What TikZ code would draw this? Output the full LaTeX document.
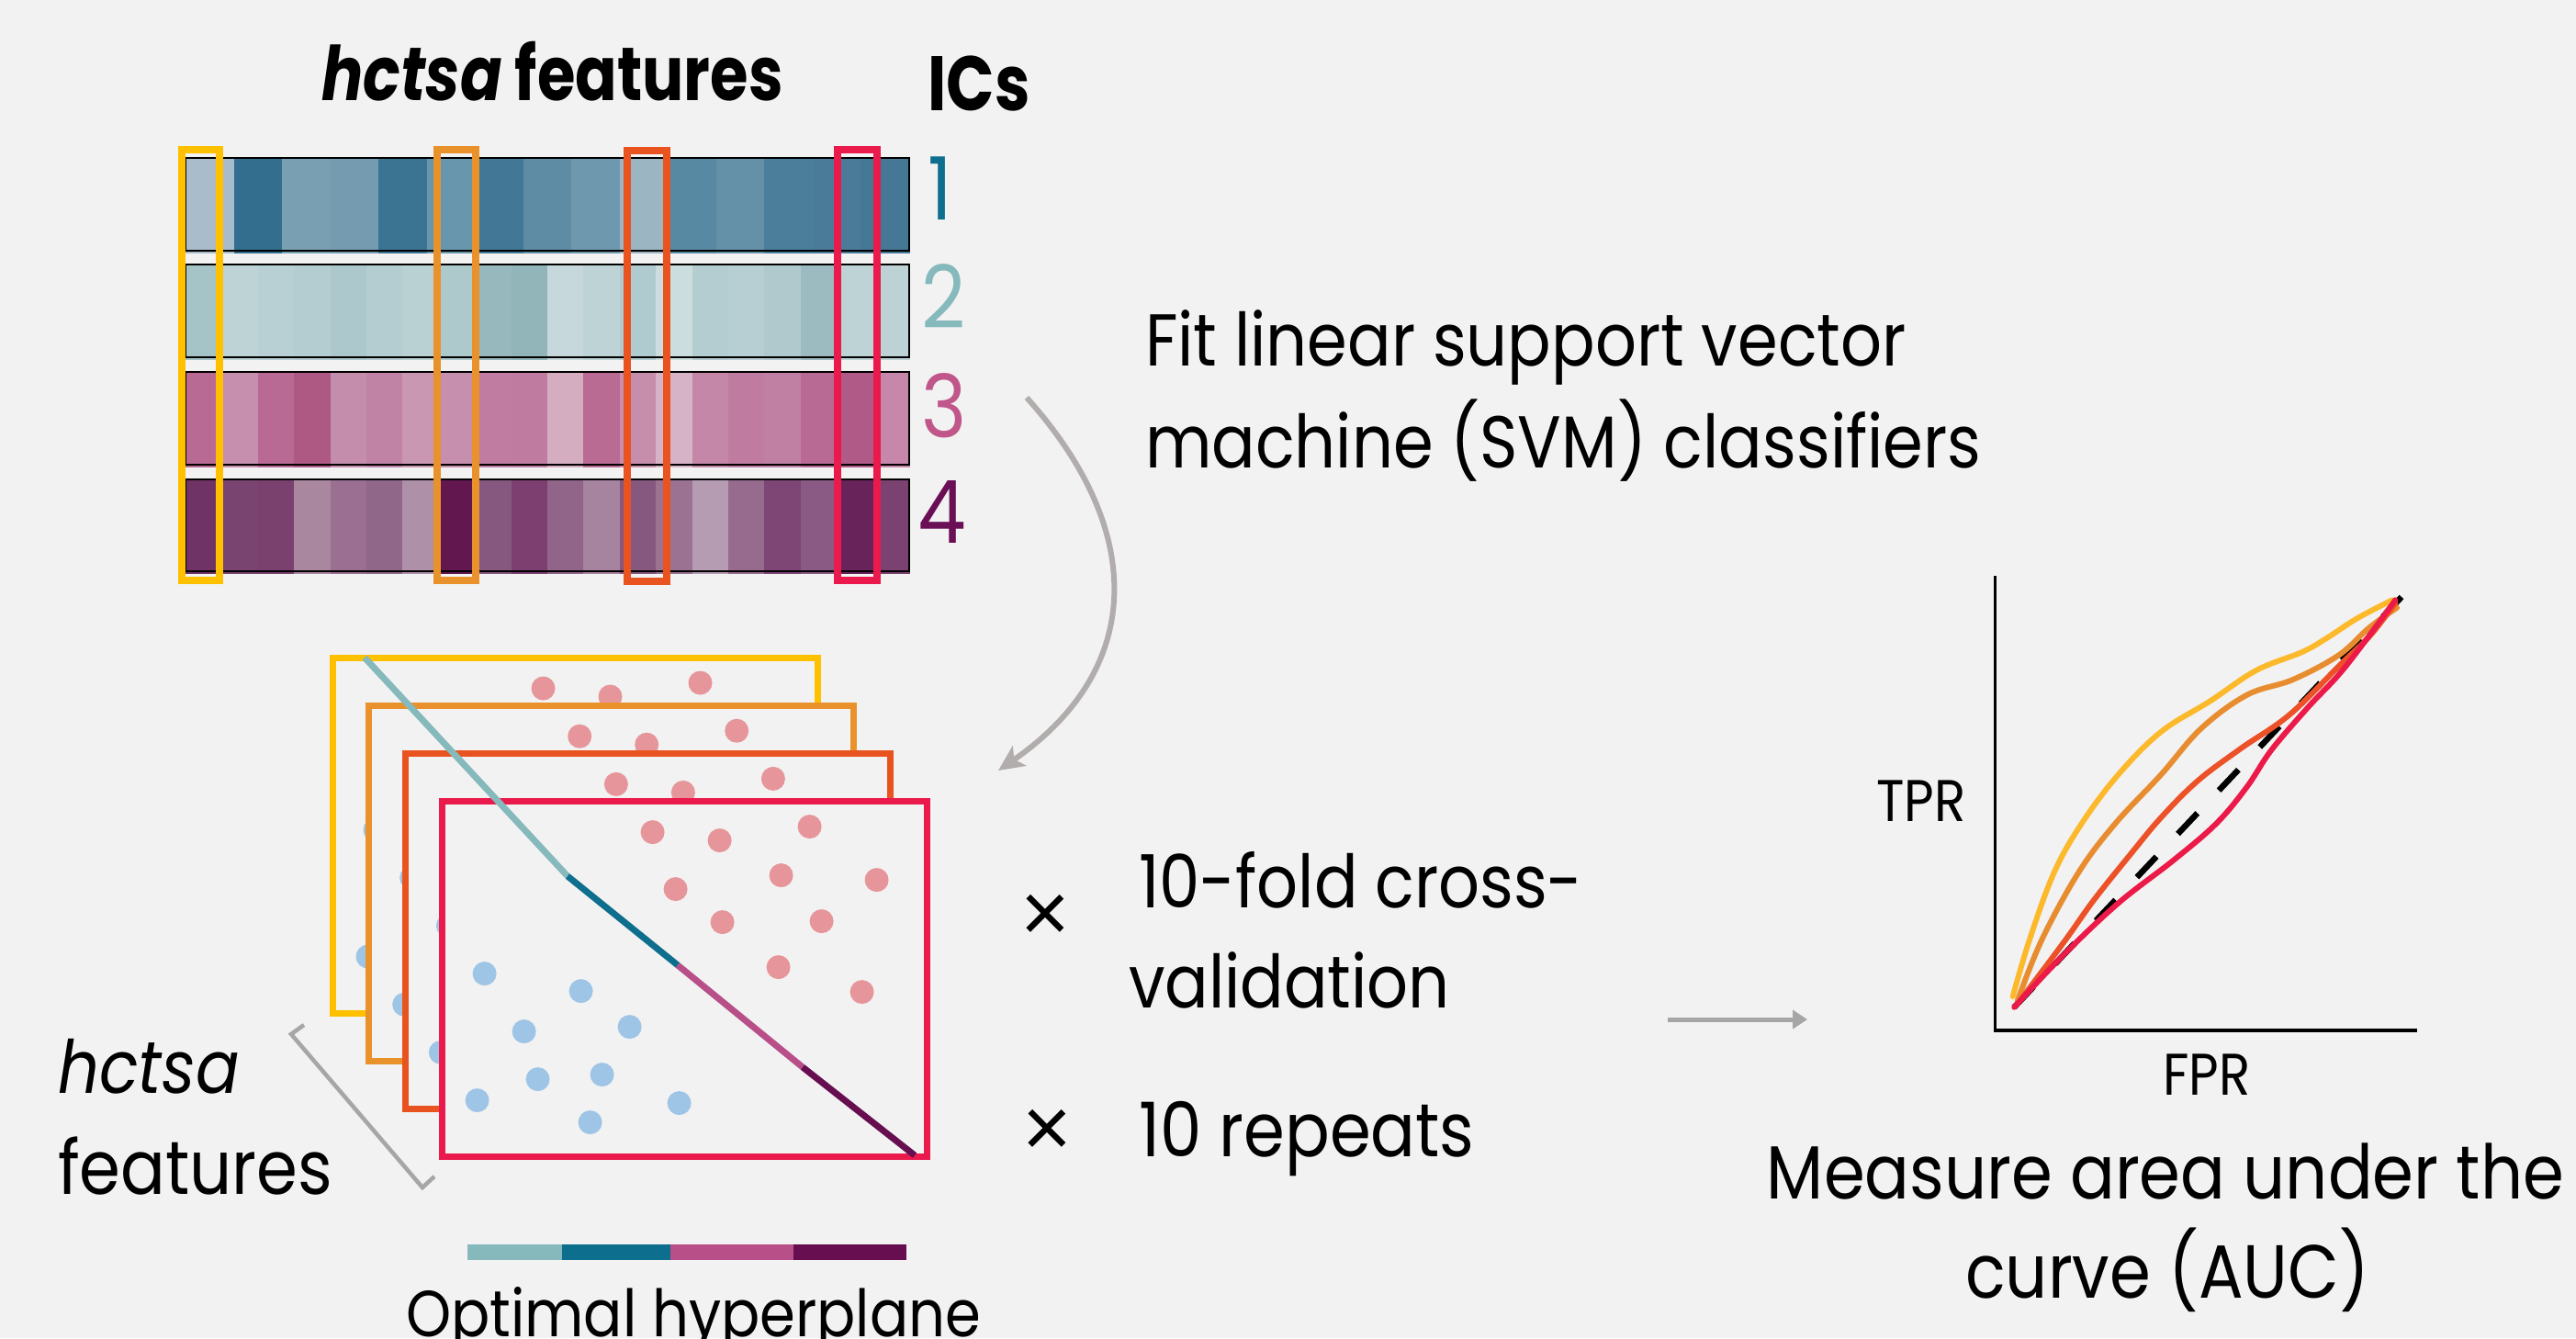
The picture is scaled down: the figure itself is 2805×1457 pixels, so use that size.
\documentclass[tikz,border=0pt]{standalone}
\usepackage{fontspec}
\setmainfont{Poppins}[FakeStretch=0.88, BoldFeatures={FakeStretch=0.82}, BoldItalicFeatures={FakeStretch=0.82}]
\newfontfamily\symfont{Liberation Sans}
\usetikzlibrary{arrows.meta}
\definecolor{bgc}{HTML}{F2F2F2}
\definecolor{fyel}{HTML}{FFC000}
\definecolor{forg}{HTML}{E9922B}
\definecolor{fred}{HTML}{E9531F}
\definecolor{fcrim}{HTML}{EA1A4C}
\definecolor{dotpink}{HTML}{E6969A}
\definecolor{dotblue}{HTML}{9FC5E6}
\definecolor{icA}{HTML}{0E6E8E}
\definecolor{icB}{HTML}{86B9BC}
\definecolor{icC}{HTML}{C0568A}
\definecolor{icD}{HTML}{6A0F55}
\definecolor{hpA}{HTML}{86B9BC}
\definecolor{hpB}{HTML}{0E6E8E}
\definecolor{hpC}{HTML}{B84F88}
\definecolor{hpD}{HTML}{660E50}
\definecolor{arcgrey}{HTML}{B0ADAC}
\definecolor{arrgrey}{HTML}{A6A6A6}
\definecolor{rocY}{HTML}{FDB92C}
\definecolor{rocO}{HTML}{E88C30}
\definecolor{rocR}{HTML}{EC5128}
\definecolor{rocC}{HTML}{EB1A48}
\tikzset{
  txt/.style={anchor=base west, inner sep=0pt, outer sep=0pt, font=\fontsize{80}{96}\selectfont},
  txtc/.style={anchor=base, inner sep=0pt, outer sep=0pt, font=\fontsize{82}{96}\selectfont},
  times/.style={anchor=center, inner sep=0pt, outer sep=0pt, font=\symfont\fontsize{92}{96}\selectfont},
  hlbox/.style={line width=7.5pt},
  frame/.style={line width=7pt, fill=bgc},
  heatframe/.style={draw=black, line width=2.5pt},
  roc/.style={line width=6pt, line cap=round, line join=round},
}
\begin{document}
\begin{tikzpicture}[x=1pt,y=-1pt]
\fill[bgc] (0,0) rectangle (2805,1457);
\useasboundingbox (0,0) rectangle (2805,1457);

% ---------- heatmap ----------
\foreach \c [count=\i from 0] in {A8BCCB,336E8E,789FB2,749BB0,3B7393,6897AD,427896,5F8CA5,6E98AE,9BB5C3,5889A3,6490A8,4B7E9B,4A7C99,457894} {
  \definecolor{tmp}{HTML}{\c}
  \fill[tmp] ({202+52.53*\i},171) rectangle ({202+52.53*(\i+1)+0.8},276);
}
\foreach \c [count=\i from 0] in {A5C4C7,BDD3D6,B8D0D3,B3CDD0,ADC8CC,B4CDD0,B9D1D3,ADC9CC,97B9BD,91B5B9,C6D8DB,BDD3D6,B0CBCF,CCDDDF,B4CDD0,B7CFD2,AFC9CD,9CBBC0,BDD3D6,BCD2D5} {
  \definecolor{tmp}{HTML}{\c}
  \fill[tmp] ({202+39.4*\i},287) rectangle ({202+39.4*(\i+1)+0.8},392);
}
\foreach \c [count=\i from 0] in {B86A94,C68FAE,B86A94,AE5884,C58DAC,C083A5,CA97B3,C78FAE,C07DA1,C07CA0,D4ADC1,B96B94,C78EAC,D7B3C7,C487A8,C07CA0,C080A3,B86A94,B05A87,C687AA} {
  \definecolor{tmp}{HTML}{\c}
  \fill[tmp] ({202+39.4*\i},404) rectangle ({202+39.4*(\i+1)+0.8},509);
}
\foreach \c [count=\i from 0] in {6F3465,7A4470,7A416F,A9879F,9A6F91,916789,AE90A9,62184F,87587F,7C3F70,916489,A6839E,86577F,9B7292,B59CB3,966B8E,7D4675,8B5A84,68245A,7B4271} {
  \definecolor{tmp}{HTML}{\c}
  \fill[tmp] ({202+39.4*\i},521) rectangle ({202+39.4*(\i+1)+0.8},625);
}
\draw[heatframe] (202,172) rectangle (990,273);
\draw[heatframe] (202,288) rectangle (990,389);
\draw[heatframe] (202,405) rectangle (990,506);
\draw[heatframe] (202,522) rectangle (990,622);

\draw[hlbox, fyel]  (198,163) rectangle (239,632);
\draw[hlbox, forg]  (476,163) rectangle (518,632);
\draw[hlbox, fred]  (683,164) rectangle (726,633);
\draw[hlbox, fcrim] (912,163) rectangle (955,632);

\node[anchor=base west, inner sep=0pt, font=\fontsize{82}{96}\selectfont\bfseries] (title) at (350,109) {\textit{hctsa} features};
\node[anchor=base west, inner sep=0pt, font=\fontsize{84}{96}\selectfont\bfseries] (ics) at (1010,120) {ICs};
\node[anchor=base west, inner sep=0pt, font=\fontsize{95}{96}\selectfont, text=icA] (ic1) at (1010,239) {1};
\node[anchor=base west, inner sep=0pt, font=\fontsize{95}{96}\selectfont, text=icB] (ic2) at (1003,357) {2};
\node[anchor=base west, inner sep=0pt, font=\fontsize{95}{96}\selectfont, text=icC] (ic3) at (1003,476) {3};
\node[anchor=base west, inner sep=0pt, font=\fontsize{95}{96}\selectfont, text=icD] (ic4) at (999,591) {4};

% ---------- arc arrow ----------
\coordinate (arcS) at (1118,433);
\coordinate (arcE) at (1087,839);
\draw[arcgrey, line width=6pt, -{Stealth[length=28pt,width=26pt,inset=7pt]}] (arcS) .. controls (1250,580) and (1245,730) .. (arcE);

\node[txt] (fit1) at (1247,398) {Fit linear support vector};
\node[txt] (fit2) at (1247,509) {machine (SVM) classifiers};

% ---------- frames ----------
\foreach \k/\col in {0/fyel,1/forg,2/fred,3/fcrim} {
  \begin{scope}[shift={({39.7*\k},{52.2*\k})}]
    \draw[frame, draw=\col] (362,716) rectangle (890,1103);
    \foreach \px/\py in {233/37,306/46,404/31,258/99,373/84,477/89,309/135,417/134,370/184,461/211}
      \fill[dotpink] ({358.5+\px},{712.5+\py}) circle (13);
    \foreach \px/\py in {50/191,155/210,93/254,208/249,108/306,178/301,42/329,165/353,262/332}
      \fill[dotblue] ({358.5+\px},{712.5+\py}) circle (13);
  \end{scope}
}
\coordinate (hp0) at (397,716);
\coordinate (hp1) at (618,954);
\coordinate (hp2) at (738,1051);
\coordinate (hp3) at (874,1162);
\coordinate (hp4) at (996,1258);
\draw[hpA, line width=7pt] (hp0) -- (hp1);
\draw[hpB, line width=7pt] (hp1) -- (hp2);
\draw[hpC, line width=7pt] (hp2) -- (hp3);
\draw[hpD, line width=7pt] (hp3) -- (hp4);

% bracket
\coordinate (brA) at (331,1116);
\coordinate (brB) at (317,1126);
\coordinate (brC) at (460,1293);
\coordinate (brD) at (473,1281);
\draw[arrgrey, line width=4.5pt] (brA) -- (brB) -- (brC) -- (brD);

\node[txt, font=\fontsize{80}{96}\selectfont\itshape] (lh1) at (63,1190) {hctsa};
\node[txt, font=\fontsize{82}{96}\selectfont] (lh2) at (63,1300) {features};

% colour bar
\fill[hpA] (509,1355) rectangle (612,1372);
\fill[hpB] (612,1355) rectangle (730,1372);
\fill[hpC] (730,1355) rectangle (864,1372);
\fill[hpD] (864,1355) rectangle (987,1372);
\node[txt, font=\fontsize{71}{96}\selectfont] (opt) at (442,1455) {Optimal hyperplane};

% ---------- cross validation ----------
\node[times] (x1) at (1138,1000) {×};
\node[txt] (cv1) at (1240,988) {10-fold cross-};
\node[txt] (cv2) at (1229,1097) {validation};
\node[times] (x2) at (1140,1234) {×};
\node[txt, font=\fontsize{82}{96}\selectfont] (rep) at (1240,1259) {10 repeats};

\coordinate (arA) at (1816,1110);
\coordinate (arB) at (1968,1110);
\draw[arrgrey, line width=5pt, -{Triangle[length=16pt,width=20pt]}] (arA) -- (arB);

% ---------- ROC ----------
\coordinate (ax0) at (2172.5,627);
\coordinate (ax1) at (2172.5,1122);
\coordinate (ax2) at (2632,1122);
\draw[black, line width=3.5pt] (ax0) -- (ax1) -- (ax2);
\draw[black, line width=6.5pt, dash pattern=on 31pt off 34pt] (2193,1097) -- (2615,650);
\draw[roc, rocY] plot[smooth, tension=0.6] coordinates {(2191.7,1085) (2210,1023) (2236.7,950) (2266.7,896.7) (2306.7,843.3) (2353.3,796.7) (2406.7,763.3) (2456.7,730) (2506.7,710) (2533.3,695) (2566.7,673.3) (2605,653.3)};
\draw[roc, rocO] plot[smooth, tension=0.6] coordinates {(2196.7,1090) (2223.3,1023.3) (2263.3,950) (2303.3,896.7) (2353.3,843.3) (2396.7,793.3) (2446.7,756.7) (2496.7,740) (2546.7,713.3) (2580,683.3) (2610,661.7)};
\draw[roc, rocR] plot[smooth, tension=0.6] coordinates {(2196.7,1093.3) (2246.7,1026.7) (2280,980) (2320,930) (2353.3,890) (2393.3,850) (2440,815) (2493.3,778) (2550,722) (2580,693) (2608.3,656.7)};
\draw[roc, rocC] plot[smooth, tension=0.6] coordinates {(2193.3,1096.7) (2246.7,1040) (2306.7,983.3) (2366.7,936.7) (2413.3,896.7) (2446.7,856.7) (2473.3,816.7) (2513.3,770) (2553.3,726.7) (2608.3,653.3)};

\node[txt, font=\fontsize{64}{80}\selectfont] (tpr) at (2043,894) {TPR};
\node[txt, font=\fontsize{64}{80}\selectfont] (fpr) at (2355,1192) {FPR};
\node[txtc] (auc1) at (2358,1305) {Measure area under the};
\node[txtc] (auc2) at (2360,1413) {curve (AUC)};
\end{tikzpicture}
\end{document}
